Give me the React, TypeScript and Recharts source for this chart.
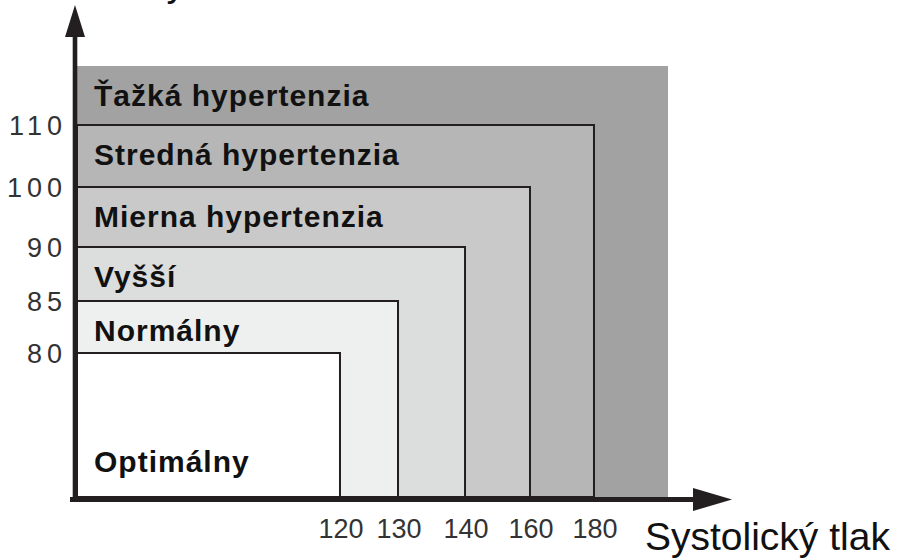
import React from 'react';
import { ComposedChart, XAxis, YAxis, ReferenceArea, ReferenceLine } from 'recharts';

// ---- data ----
const categories = [
  'Optimálny',
  'Normálny',
  'Vyšší',
  'Mierna hypertenzia',
  'Stredná hypertenzia',
  'Ťažká hypertenzia',
];
// upper bound of each category (last one = drawn extent of the open-ended class)
const systolicLimits = [120, 130, 140, 160, 180, 200];
const diastolicLimits = [80, 85, 90, 100, 110, 120];
const systolicTicks = [120, 130, 140, 160, 180];
const diastolicTicks = [80, 85, 90, 100, 110];
const xAxisTitle = 'Systolický tlak';
const yAxisTitle = 'Diastolický tlak';

// ---- styles ----
const fills = ['#ffffff', '#eeefef', '#dcdddd', '#c9c9c9', '#b5b6b5', '#a1a2a1'];
const outlined = [true, true, true, true, true, false];
const labelAtBottom = [true, false, false, false, false, false];
const INK = '#231f20';
const FONT = '"Liberation Sans", Arial, Helvetica, sans-serif';

// ---- schematic (non-linear) axis layout: domain knots -> fraction of axis length ----
const X_KNOTS = [0, ...systolicTicks, 200, 220];
const X_FRACS = [0, 0.4015, 0.4901, 0.5924, 0.6916, 0.7893, 0.9023, 1];
const Y_KNOTS = [0, ...diastolicTicks, 120, 130];
const Y_FRACS = [0, 0.2927, 0.3984, 0.5081, 0.6301, 0.7561, 0.876, 1];

function makePiecewiseScale(knots: number[], fracs: number[], d?: number[], r?: number[]): any {
  let dom: number[] = d ? d.slice() : [knots[0], knots[knots.length - 1]];
  let rng: number[] = r ? r.slice() : [0, 1];
  const n = knots.length;
  const fracOf = (v: number) => {
    let i = 0;
    if (v >= knots[n - 1]) i = n - 2;
    else {
      while (i < n - 2 && v > knots[i + 1]) i++;
    }
    const t = (v - knots[i]) / (knots[i + 1] - knots[i]);
    return fracs[i] + t * (fracs[i + 1] - fracs[i]);
  };
  const scale: any = (v: any) => {
    const num = Number(v);
    if (!Number.isFinite(num)) return undefined;
    return rng[0] + fracOf(num) * (rng[rng.length - 1] - rng[0]);
  };
  scale.domain = (nd?: any) => {
    if (nd === undefined) return dom.slice();
    dom = Array.from(nd);
    return scale;
  };
  scale.range = (nr?: any) => {
    if (nr === undefined) return rng.slice();
    rng = Array.from(nr);
    return scale;
  };
  scale.copy = () => makePiecewiseScale(knots, fracs, dom, rng);
  scale.ticks = () => knots.slice();
  scale.tickFormat = () => (v: any) => String(v);
  scale.nice = () => scale;
  scale.clamp = () => scale;
  scale.invert = (p: number) => {
    const f = (p - rng[0]) / (rng[rng.length - 1] - rng[0]);
    let i = 0;
    while (i < n - 2 && f > fracs[i + 1]) i++;
    const t = (f - fracs[i]) / (fracs[i + 1] - fracs[i]);
    return knots[i] + t * (knots[i + 1] - knots[i]);
  };
  return scale;
}

const xScale = makePiecewiseScale(X_KNOTS, X_FRACS);
const yScale = makePiecewiseScale(Y_KNOTS, Y_FRACS);

// ---- renderers ----
const AreaLabel = (props: any) => {
  const { viewBox, text, bottom } = props;
  if (!viewBox) return null;
  const x = viewBox.x + 17;
  const y = bottom ? viewBox.y + viewBox.height - 25 : viewBox.y + 40;
  return (
    <text x={x} y={y} fill="#111" fontFamily={FONT} fontWeight="bold" fontSize={30} letterSpacing={1}>
      {text}
    </text>
  );
};

const XTick = (props: any) => {
  const { x, y, payload } = props;
  return (
    <text x={x + 1} y={y + 41} textAnchor="middle" fill="#333" fontFamily={FONT} fontSize={27}>
      {payload.value}
    </text>
  );
};

const YTick = (props: any) => {
  const { x, y, payload } = props;
  return (
    <text x={x - 10} y={y + 10} textAnchor="end" fill="#333" fontFamily={FONT} fontSize={27} letterSpacing={5}>
      {payload.value}
    </text>
  );
};

const XTitle = (props: any) => {
  const { viewBox } = props;
  if (!viewBox) return null;
  return (
    <text x={viewBox.x + viewBox.width - 87} y={viewBox.y + 53} fill="#111" fontFamily={FONT} fontSize={39}>
      {xAxisTitle}
    </text>
  );
};

const YTitle = (props: any) => {
  const { viewBox } = props;
  if (!viewBox) return null;
  return (
    <text x={viewBox.x + 4} y={viewBox.y - 9} fill="#111" fontFamily={FONT} fontSize={38}>
      {yAxisTitle}
    </text>
  );
};

const XArrow = (props: any) => {
  const { x1, y1, x2 } = props;
  const cy = y1 + 2.5;
  return (
    <g>
      <line x1={x1 - 7} y1={cy} x2={x2 - 37} y2={cy} stroke={INK} strokeWidth={5} />
      <polygon points={`${x2},${cy} ${x2 - 39},${cy - 11.5} ${x2 - 39},${cy + 11.5}`} fill={INK} />
    </g>
  );
};

const YArrow = (props: any) => {
  const { x1, y1, y2 } = props;
  const cx = x1 - 2;
  return (
    <g>
      <line x1={cx} y1={y1 + 5} x2={cx} y2={y2 + 30} stroke={INK} strokeWidth={4.6} />
      <polygon points={`${cx},${y2} ${cx - 10},${y2 + 32} ${cx + 10},${y2 + 32}`} fill={INK} />
    </g>
  );
};

const order = categories.map((_, i) => i).reverse();

export default function App() {
  return (
    <div style={{ position: 'absolute', left: 0, top: 0 }}>
      <ComposedChart
        width={898}
        height={560}
        data={[]}
        margin={{ top: 5, right: 166, bottom: 0, left: 0 }}
      >
        <XAxis
          type="number"
          dataKey="x"
          domain={[0, 220]}
          allowDataOverflow
          scale={xScale}
          ticks={systolicTicks}
          interval={0}
          tick={<XTick />}
          tickLine={false}
          tickSize={0}
          tickMargin={0}
          axisLine={false}
          height={63}
          label={<XTitle />}
        />
        <YAxis
          type="number"
          dataKey="y"
          domain={[0, 130]}
          allowDataOverflow
          scale={yScale}
          ticks={diastolicTicks}
          interval={0}
          tick={<YTick />}
          tickLine={false}
          tickSize={0}
          tickMargin={0}
          axisLine={false}
          width={77}
          label={<YTitle />}
        />
        {order.map((i) => (
          <ReferenceArea
            key={categories[i]}
            x1={0}
            x2={systolicLimits[i]}
            y1={0}
            y2={diastolicLimits[i]}
            fill={fills[i]}
            fillOpacity={1}
            stroke={outlined[i] ? INK : 'none'}
            strokeWidth={2}
            ifOverflow="visible"
            label={<AreaLabel text={categories[i]} bottom={labelAtBottom[i]} />}
          />
        ))}
        <ReferenceLine
          segment={[{ x: 0, y: 0 }, { x: 220, y: 0 }]}
          ifOverflow="visible"
          stroke={INK}
          shape={(p: any) => <XArrow {...p} />}
        />
        <ReferenceLine
          segment={[{ x: 0, y: 0 }, { x: 0, y: 130 }]}
          ifOverflow="visible"
          stroke={INK}
          shape={(p: any) => <YArrow {...p} />}
        />
      </ComposedChart>
    </div>
  );
}
